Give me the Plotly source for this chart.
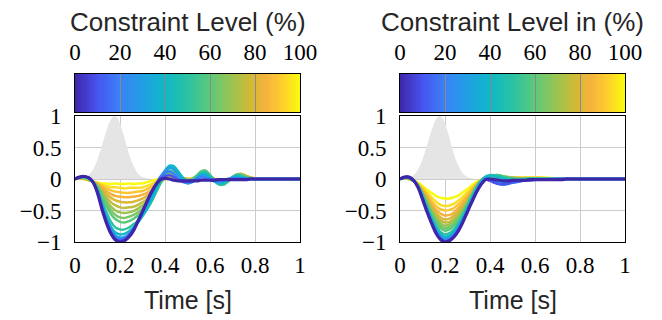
import plotly.graph_objects as go
from plotly.colors import sample_colorscale
import numpy as np

# ---------------- data ----------------
time_s = [0.00, 0.02, 0.04, 0.06, 0.08, 0.10, 0.12, 0.14, 0.16, 0.18,
          0.20, 0.22, 0.24, 0.26, 0.28, 0.30, 0.32, 0.34, 0.36, 0.38,
          0.40, 0.42, 0.44, 0.46, 0.48, 0.50, 0.52, 0.54, 0.56, 0.58,
          0.60, 0.62, 0.64, 0.66, 0.68, 0.70, 0.72, 0.74, 0.76, 0.78,
          0.80, 0.85, 0.90, 1.00]

levels = [100, 95, 90, 85, 80, 75, 70, 65, 60, 50, 40, 30, 20, 10, 0]

pulse_t = [0.02, 0.04, 0.06, 0.08, 0.10, 0.12, 0.14, 0.16, 0.175, 0.19,
           0.21, 0.23, 0.25, 0.27, 0.29, 0.31, 0.33]
pulse_y = [0.00, 0.02, 0.06, 0.15, 0.31, 0.53, 0.77, 0.95, 1.00, 0.96,
           0.77, 0.52, 0.29, 0.14, 0.05, 0.02, 0.00]

# left panel: response for each constraint level
left_0 = [0, .03, .04, .02, -.05, -.22, -.48, -.70, -.87, -.97,
          -1.0, -.98, -.92, -.82, -.67, -.52, -.36, -.21, -.09, -.01,
          .01, .00, -.02, -.03, -.03, -.03, -.03, -.03, -.02, -.02,
          -.02, -.02, -.01, -.01, -.01, -.01, -.01, -.01, -.01, .00,
          0, 0, 0, 0]
left_10 = [0, .03, .04, .02, -.05, -.21, -.46, -.68, -.85, -.95,
           -.98, -.96, -.90, -.80, -.66, -.51, -.35, -.20, -.08, .01,
           .05, .06, .03, -.02, -.04, -.04, -.03, -.02, -.01, -.01,
           -.01, -.01, -.01, -.01, 0, 0, 0, 0, 0, 0,
           0, 0, 0, 0]
left_20 = [0, .03, .04, .02, -.05, -.20, -.44, -.66, -.83, -.93,
           -.96, -.94, -.88, -.79, -.66, -.52, -.37, -.22, -.08, .04,
           .10, .12, .08, .00, -.05, -.06, -.04, .00, .03, .02,
           -.01, -.03, -.03, -.02, -.01, 0, 0, 0, 0, 0,
           0, 0, 0, 0]
left_30 = [0, .03, .04, .02, -.05, -.19, -.42, -.63, -.80, -.90,
           -.93, -.92, -.87, -.79, -.68, -.55, -.41, -.26, -.11, .03,
           .13, .18, .15, .06, -.03, -.07, -.05, .01, .06, .05,
           .00, -.04, -.05, -.03, .00, .02, .02, .01, 0, 0,
           0, 0, 0, 0]
left_40 = [0, .03, .04, .02, -.05, -.18, -.40, -.60, -.76, -.85,
           -.88, -.87, -.83, -.77, -.69, -.59, -.47, -.33, -.17, -.01,
           .13, .21, .20, .11, .01, -.05, -.05, .01, .07, .08,
           .03, -.03, -.07, -.06, -.02, .02, .04, .03, .01, 0,
           0, 0, 0, 0]
left_50 = [0, .02, .03, .01, -.05, -.16, -.35, -.53, -.68, -.77,
           -.80, -.80, -.77, -.72, -.66, -.58, -.48, -.36, -.21, -.05,
           .09, .17, .18, .11, .02, -.03, -.03, .03, .10, .11,
           .05, -.03, -.08, -.08, -.03, .03, .06, .05, .02, .00,
           -.01, 0, 0, 0]
left_60 = [0, .02, .02, .00, -.05, -.13, -.28, -.43, -.56, -.64,
           -.68, -.69, -.67, -.63, -.58, -.52, -.44, -.34, -.21, -.07,
           .05, .12, .13, .08, .01, -.02, -.01, .05, .12, .13,
           .06, -.03, -.09, -.09, -.04, .03, .07, .06, .03, .01,
           0, 0, 0, 0]
left_65 = [0, .02, .02, .00, -.05, -.12, -.25, -.39, -.50, -.57,
           -.61, -.62, -.60, -.57, -.53, -.47, -.40, -.31, -.19, -.07,
           .04, .10, .11, .07, .01, -.02, -.01, .05, .11, .13,
           .06, -.03, -.08, -.09, -.04, .03, .07, .07, .03, .01,
           0, 0, 0, 0]
left_70 = [0, .02, .02, .00, -.04, -.11, -.22, -.34, -.44, -.50,
           -.53, -.54, -.53, -.51, -.47, -.42, -.36, -.28, -.17, -.06,
           .03, .08, .09, .06, .01, -.01, .00, .05, .10, .12,
           .06, -.02, -.07, -.08, -.04, .02, .07, .07, .04, .02,
           0, 0, 0, 0]
left_75 = [0, .02, .01, .00, -.04, -.10, -.19, -.29, -.37, -.42,
           -.45, -.46, -.45, -.44, -.41, -.37, -.32, -.25, -.15, -.05,
           .02, .07, .08, .05, .01, -.01, .00, .04, .09, .11,
           .06, -.01, -.06, -.07, -.04, .02, .07, .08, .04, .02,
           0, 0, 0, 0]
left_80 = [0, .01, .01, -.01, -.04, -.09, -.16, -.24, -.30, -.34,
           -.36, -.37, -.37, -.36, -.34, -.31, -.27, -.21, -.13, -.05,
           .01, .05, .06, .04, .01, -.01, .00, .03, .07, .09,
           .05, -.01, -.05, -.06, -.03, .02, .06, .08, .05, .02,
           0, 0, 0, 0]
left_85 = [0, .01, .01, -.01, -.04, -.08, -.13, -.19, -.24, -.27,
           -.28, -.29, -.29, -.28, -.27, -.25, -.22, -.17, -.10, -.04,
           .01, .04, .05, .04, .01, .00, .00, .03, .06, .07,
           .05, .00, -.04, -.05, -.03, .02, .06, .07, .05, .02,
           .01, 0, 0, 0]
left_90 = [0, .01, .00, -.02, -.04, -.07, -.11, -.15, -.18, -.20,
           -.21, -.22, -.22, -.21, -.20, -.19, -.16, -.12, -.07, -.02,
           .01, .03, .04, .03, .01, .00, .00, .02, .05, .06,
           .04, .00, -.03, -.04, -.02, .02, .05, .07, .05, .02,
           .01, 0, 0, 0]
left_95 = [0, .01, .00, -.02, -.04, -.06, -.09, -.11, -.13, -.13,
           -.14, -.15, -.14, -.14, -.14, -.13, -.11, -.08, -.04, -.01,
           .01, .03, .03, .02, .01, .00, .00, .02, .04, .05,
           .03, .00, -.02, -.03, -.02, .02, .05, .06, .04, .02,
           .01, 0, 0, 0]
left_100 = [0, .01, .00, -.02, -.04, -.06, -.07, -.07, -.08, -.07,
            -.08, -.08, -.07, -.08, -.07, -.07, -.05, -.03, -.01, .01,
            .02, .03, .03, .02, .01, .00, .00, .01, .03, .04,
            .03, .00, -.02, -.03, -.01, .02, .04, .05, .04, .02,
            .01, 0, 0, 0]

# right panel
right_0 = [0, .03, .03, -.02, -.13, -.32, -.52, -.70, -.86, -.96,
           -1.0, -.98, -.92, -.82, -.68, -.52, -.36, -.21, -.09, -.01,
           .00, -.01, -.02, -.03, -.03, -.02, -.02, -.02, -.02, -.01,
           -.01, -.01, -.01, -.01, -.01, -.01, -.01, 0, 0, 0,
           0, 0, 0, 0]
right_10 = [0, .03, .03, -.02, -.13, -.31, -.51, -.69, -.85, -.95,
            -.99, -.97, -.91, -.81, -.67, -.51, -.35, -.20, -.08, -.01,
            -.03, -.06, -.08, -.08, -.07, -.05, -.04, -.03, -.02, -.02,
            -.01, -.01, -.01, -.01, -.01, 0, 0, 0, 0, 0,
            0, 0, 0, 0]
right_20 = [0, .03, .03, -.02, -.12, -.30, -.50, -.68, -.83, -.93,
            -.97, -.95, -.89, -.79, -.66, -.50, -.34, -.19, -.07, .00,
            -.01, -.05, -.08, -.09, -.08, -.06, -.05, -.03, -.02, -.02,
            -.01, -.01, -.01, -.01, 0, 0, 0, 0, 0, 0,
            0, 0, 0, 0]
right_30 = [0, .03, .03, -.02, -.12, -.29, -.48, -.66, -.81, -.91,
            -.95, -.93, -.87, -.77, -.64, -.49, -.33, -.18, -.06, .01,
            .01, -.02, -.05, -.06, -.06, -.05, -.04, -.03, -.02, -.01,
            -.01, -.01, 0, 0, 0, 0, 0, 0, 0, 0,
            0, 0, 0, 0]
right_40 = [0, .02, .02, -.03, -.12, -.28, -.46, -.63, -.78, -.88,
            -.92, -.90, -.84, -.74, -.61, -.46, -.30, -.16, -.04, .03,
            .05, .04, .02, .00, -.02, -.02, -.02, -.01, -.01, 0,
            0, 0, 0, 0, 0, 0, 0, 0, 0, 0,
            0, 0, 0, 0]
right_50 = [0, .02, .02, -.03, -.11, -.26, -.43, -.60, -.74, -.84,
            -.88, -.86, -.80, -.70, -.58, -.43, -.28, -.14, -.03, .04,
            .06, .06, .05, .03, .01, .00, -.01, -.01, 0, 0,
            0, 0, 0, 0, 0, 0, 0, 0, 0, 0,
            0, 0, 0, 0]
right_60 = [0, .02, .01, -.03, -.11, -.24, -.40, -.55, -.68, -.78,
            -.82, -.80, -.74, -.65, -.54, -.40, -.26, -.13, -.03, .03,
            .05, .06, .06, .04, .02, .01, .00, .00, .00, .01,
            .01, .01, 0, 0, 0, 0, 0, 0, 0, 0,
            0, 0, 0, 0]
right_65 = [0, .02, .01, -.03, -.11, -.23, -.38, -.53, -.65, -.74,
            -.78, -.76, -.71, -.62, -.52, -.39, -.25, -.13, -.03, .03,
            .05, .06, .06, .04, .02, .01, .00, .00, .01, .01,
            .01, .01, 0, 0, 0, 0, 0, 0, 0, 0,
            0, 0, 0, 0]
right_70 = [0, .02, .01, -.03, -.10, -.22, -.36, -.50, -.62, -.70,
            -.74, -.72, -.67, -.59, -.49, -.37, -.24, -.12, -.03, .02,
            .04, .05, .05, .04, .03, .02, .01, .01, .01, .01,
            .01, .01, .01, .01, .01, 0, 0, 0, 0, 0,
            0, 0, 0, 0]
right_75 = [0, .02, .01, -.03, -.10, -.21, -.34, -.47, -.58, -.66,
            -.69, -.68, -.63, -.55, -.46, -.35, -.23, -.11, -.03, .02,
            .04, .05, .05, .04, .03, .02, .01, .01, .01, .01,
            .01, .01, .01, .01, .01, 0, 0, 0, 0, 0,
            0, 0, 0, 0]
right_80 = [0, .01, .00, -.03, -.09, -.19, -.31, -.43, -.54, -.61,
            -.64, -.63, -.58, -.51, -.42, -.32, -.21, -.10, -.02, .02,
            .03, .04, .04, .03, .02, .02, .02, .01, .01, .01,
            .01, .01, .01, .01, .01, .01, .01, .01, 0, 0,
            0, 0, 0, 0]
right_85 = [0, .01, .00, -.03, -.09, -.18, -.28, -.39, -.49, -.55,
            -.58, -.57, -.53, -.46, -.38, -.29, -.19, -.09, -.02, .02,
            .03, .04, .04, .03, .02, .02, .02, .01, .01, .01,
            .01, .01, .01, .01, .01, .01, .01, .01, 0, 0,
            0, 0, 0, 0]
right_90 = [0, .01, .00, -.03, -.08, -.16, -.25, -.35, -.43, -.48,
            -.50, -.49, -.46, -.40, -.33, -.25, -.16, -.08, -.02, .01,
            .02, .03, .03, .02, .02, .02, .02, .02, .02, .02,
            .02, .02, .01, .01, .01, .01, .01, .01, .01, .01,
            0, 0, 0, 0]
right_95 = [0, .01, .00, -.03, -.07, -.14, -.21, -.29, -.36, -.41,
            -.43, -.42, -.39, -.34, -.28, -.21, -.13, -.07, -.02, .01,
            .02, .02, .02, .02, .01, .01, .01, .02, .02, .02,
            .02, .02, .02, .01, .01, .01, .01, .01, .01, .01,
            0, 0, 0, 0]
right_100 = [0, .01, .00, -.02, -.06, -.11, -.17, -.22, -.27, -.30,
             -.31, -.31, -.29, -.26, -.21, -.16, -.10, -.05, -.01, .01,
             .01, .01, .01, .01, .01, .01, .01, .02, .02, .02,
             .02, .02, .02, .02, .01, .01, .01, .01, .01, .01,
             .01, 0, 0, 0]

left_curves = {0: left_0, 10: left_10, 20: left_20, 30: left_30, 40: left_40,
               50: left_50, 60: left_60, 65: left_65, 70: left_70, 75: left_75,
               80: left_80, 85: left_85, 90: left_90, 95: left_95, 100: left_100}
right_curves = {0: right_0, 10: right_10, 20: right_20, 30: right_30, 40: right_40,
                50: right_50, 60: right_60, 65: right_65, 70: right_70, 75: right_75,
                80: right_80, 85: right_85, 90: right_90, 95: right_95, 100: right_100}

x_ticks = [0, 0.2, 0.4, 0.6, 0.8, 1]
y_ticks = [-1, -0.5, 0, 0.5, 1]
cb_ticks = [0, 20, 40, 60, 80, 100]
titles = ["Constraint Level (%)", "Constraint Level in (%)"]
x_label = "Time [s]"

# ---------------- style ----------------
parula = [
    [0.00, "#3e26a8"], [0.10, "#4754f0"], [0.20, "#3a82f6"], [0.30, "#219fe4"],
    [0.40, "#0fb8c8"], [0.50, "#2bc2a4"], [0.60, "#5cc97a"], [0.70, "#9dc450"],
    [0.78, "#d1b935"], [0.85, "#f7b23d"], [0.92, "#fdcd2e"], [1.00, "#f9fb0e"],
]

# the page body has an 8px margin, so the figure is drawn 8px in from the corner
OFF = 8
W, H = 662 - OFF, 320 - OFF
PX = lambda p: (p - OFF) / W
PY = lambda p: 1 - (p - OFF) / H

fig = go.Figure()

panels = [(left_curves, "x", "y"), (right_curves, "x2", "y2")]
for curves, xa, ya in panels:
    fig.add_trace(go.Scatter(x=pulse_t, y=pulse_y, mode="lines", fill="tozeroy",
                             fillcolor="#e5e5e5", line=dict(width=0, shape="spline", color="#e5e5e5"),
                             xaxis=xa, yaxis=ya, hoverinfo="skip"))
    for lv in levels:
        col = sample_colorscale(parula, [lv / 100])[0]
        fig.add_trace(go.Scatter(x=time_s, y=curves[lv], mode="lines",
                                 line=dict(color=col, width=2.5 if lv else 3.2,
                                           shape="spline", smoothing=0.8),
                                 xaxis=xa, yaxis=ya, hoverinfo="skip"))

cb_vals = np.linspace(0, 100, 201)
for xa, ya in [("x3", "y3"), ("x4", "y4")]:
    fig.add_trace(go.Heatmap(z=[cb_vals], x=cb_vals, y=[0.5], colorscale=parula,
                             zmin=0, zmax=100, showscale=False, xaxis=xa, yaxis=ya,
                             hoverinfo="skip"))

tick_font = dict(family="Liberation Serif", size=23, color="black")
label_font = dict(family="Liberation Sans, Arial", size=25, color="#262626")
title_font = dict(family="Liberation Sans, Arial", size=26, color="#262626")

main_x = dict(range=[0, 1], tickvals=x_ticks, showgrid=True, gridcolor="#cccccc",
              gridwidth=1, zeroline=False, showline=True, mirror=True, linecolor="black",
              linewidth=1, ticks="", tickfont=tick_font, ticklabelstandoff=2,
              automargin=False)
main_y = dict(range=[-1, 1], tickvals=y_ticks, showgrid=True, gridcolor="#cccccc",
              gridwidth=1, zeroline=False, showline=True, mirror=True, linecolor="black",
              linewidth=1, ticks="", tickfont=tick_font, ticklabelstandoff=8,
              automargin=False)
cb_x = dict(range=[0, 100], tickvals=cb_ticks, side="top", showgrid=False, zeroline=False,
            showline=True, mirror=True, linecolor="black", linewidth=1,
            ticks="inside", ticklen=38, tickcolor="#8a8a8a", tickwidth=1,
            tickfont=tick_font, ticklabelstandoff=4, automargin=False)
cb_y = dict(range=[0, 1], showticklabels=False, showgrid=False, zeroline=False,
            showline=True, mirror=True, linecolor="black", linewidth=1, ticks="",
            automargin=False)

dom_l = [PX(75), PX(300)]
dom_r = [PX(400), PX(625)]
dom_plot = [PY(242), PY(116)]
dom_cb = [PY(112), PY(74)]

fig.update_layout(
    width=W, height=H, margin=dict(l=0, r=0, t=0, b=0, autoexpand=False),
    paper_bgcolor="white", plot_bgcolor="white", showlegend=False,
    xaxis=dict(main_x, domain=dom_l, anchor="y"),
    yaxis=dict(main_y, domain=dom_plot, anchor="x"),
    xaxis2=dict(main_x, domain=dom_r, anchor="y2"),
    yaxis2=dict(main_y, domain=dom_plot, anchor="x2"),
    xaxis3=dict(cb_x, domain=dom_l, anchor="y3"),
    yaxis3=dict(cb_y, domain=dom_cb, anchor="x3"),
    xaxis4=dict(cb_x, domain=dom_r, anchor="y4"),
    yaxis4=dict(cb_y, domain=dom_cb, anchor="x4"),
)

annotations = []
for i, dom in enumerate([dom_l, dom_r]):
    cx = (dom[0] + dom[1]) / 2
    annotations.append(dict(text=titles[i], x=cx, y=PY(22), xref="paper", yref="paper",
                            xanchor="center", yanchor="middle", showarrow=False, font=title_font))
    annotations.append(dict(text=x_label, x=cx, y=PY(300), xref="paper", yref="paper",
                            xanchor="center", yanchor="middle", showarrow=False, font=label_font))
fig.update_layout(annotations=annotations)

fig.write_html("out.html")
